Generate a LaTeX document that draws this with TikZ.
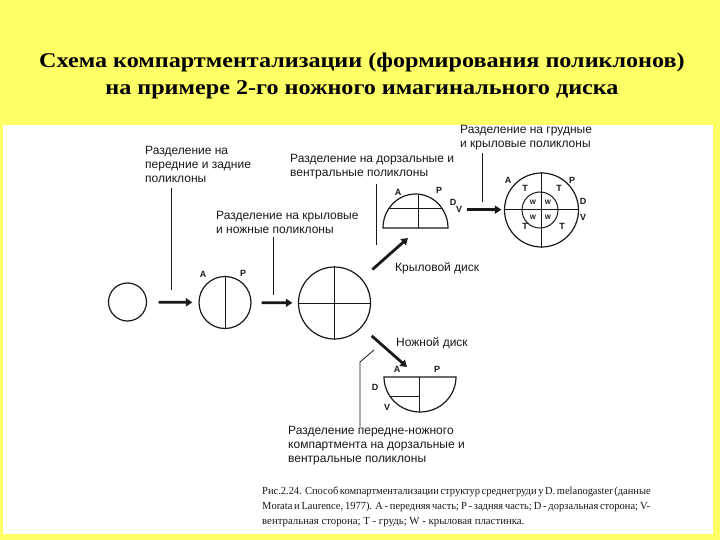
\documentclass[tikz,border=0pt]{standalone}
\usepackage{fontspec}
\setmainfont{Liberation Serif}
\newfontfamily\arialfont{Liberation Sans}
\newfontfamily\titlefont[FakeStretch=1.15]{Liberation Serif}
\newfontfamily\capfont[FakeStretch=0.97]{Liberation Serif}
\usetikzlibrary{arrows.meta, positioning}
\definecolor{slideyellow}{RGB}{255,255,102}
\definecolor{inkgray}{RGB}{25,25,25}
\newcommand{\capline}[1]{\hbox to 388pt{\capfont\spaceskip=0.25em plus 1em minus 0.1em #1}}
\tikzset{
  disc/.style={circle, draw=inkgray, line width=1.2pt, inner sep=0pt},
  lbl/.style={font=\arialfont\fontsize{12}{14}\selectfont, text=inkgray, align=left,
    inner sep=0pt, anchor=north west},
  ltr/.style={font=\arialfont\bfseries\fontsize{9}{9}\selectfont, text=inkgray, inner sep=0pt},
  wl/.style={font=\arialfont\bfseries\fontsize{6.5}{6.5}\selectfont, text=inkgray, inner sep=0pt},
  arrow/.style={-{Triangle[length=6.5pt,width=8pt]}, line width=2.8pt, inkgray},
  ptr/.style={line width=0.8pt, inkgray},
  split/.style={line width=1pt, inkgray},
  cpt/.style={font=\fontsize{10.8}{15}\selectfont, text=inkgray, align=left,
    inner sep=0pt, anchor=north west},
  ttl/.style={font=\titlefont\bfseries\fontsize{21}{27}\selectfont, align=center, inner sep=0pt}
}

\begin{document}
\begin{tikzpicture}[x=1pt, y=-1pt]
  \useasboundingbox (0,0) rectangle (720,540);
  \fill[slideyellow] (0,0) rectangle (720,540);
  \fill[white] (3,125) rectangle (713,534);
  \node[ttl] (title) at (362,76) {Схема компартментализации (формирования поликлонов)\\
    на примере 2-го ножного имагинального диска};

  % discs
  \node[disc, minimum size=38pt] (c0) at (127.5,302) {};
  \node[disc, minimum size=52pt] (c1) at (225,302.5) {};
  \node[disc, minimum size=72pt] (c2) at (334.5,303) {};
  \node[disc, minimum size=74pt] (c3) at (541.5,210) {};
  \node[disc, minimum size=36pt, line width=1pt] (c3in) at (540,210) {};
  \draw[split] (c1.north) -- (c1.south);
  \draw[split] (c2.north) -- (c2.south);
  \draw[split] (c2.west) -- (c2.east);
  \draw[split] (c3.north) -- (c3.south);
  \draw[split] (c3.west) -- (c3.east);

  % wing half-disc
  \coordinate (wing) at (415.5,209);
  \draw[disc] (383,228) arc[start angle=180, end angle=360, x radius=32.5, y radius=34] -- cycle;
  \begin{scope}
    \clip (383,228) arc[start angle=180, end angle=360, x radius=32.5, y radius=34] -- cycle;
    \draw[split] (380,209) -- (450,209);
    \draw[split] (418.5,190) -- (418.5,230);
  \end{scope}

  % leg half-disc
  \draw[disc] (384,377) arc[start angle=180, end angle=0, x radius=36, y radius=35] -- cycle;
  \begin{scope}
    \clip (384,377) arc[start angle=180, end angle=0, x radius=36, y radius=35] -- cycle;
    \draw[split] (419,375) -- (419,415);
    \draw[split] (380,396) -- (419,396);
  \end{scope}

  % letters
  \node[ltr] (a1) at (203,274) {A};
  \node[ltr] (p1) at (243,273) {P};
  \node[ltr] (a2) at (398,192) {A};
  \node[ltr] (p2) at (439,190.5) {P};
  \node[ltr] (d2) at (453,202) {D};
  \node[ltr] (v2) at (459,209) {V};
  \node[ltr] (a3) at (508,180) {A};
  \node[ltr] (p3) at (572,180) {P};
  \node[ltr] (d3) at (583,201) {D};
  \node[ltr] (v3) at (583,217) {V};
  \node[ltr] (t1) at (525,188) {T};
  \node[ltr] (t2) at (559,188) {T};
  \node[ltr] (t3) at (525,226) {T};
  \node[ltr] (t4) at (562,226) {T};
  \node[wl] (w1) at (533,202) {W};
  \node[wl] (w2) at (548,202) {W};
  \node[wl] (w3) at (533,217) {W};
  \node[wl] (w4) at (548,217) {W};
  \node[ltr] (a4) at (397,369) {A};
  \node[ltr] (p4) at (437,369) {P};
  \node[ltr] (d4) at (375,387) {D};
  \node[ltr] (v4) at (387,407) {V};

  % labels
  \node[lbl] (lab1) at (145,146.5) {Разделение на\\передние и задние\\поликлоны};
  \node[lbl] (lab2) at (216,211.5) {Разделение на крыловые\\и ножные поликлоны};
  \node[lbl] (lab3) at (290,154.5) {Разделение на дорзальные и\\вентральные поликлоны};
  \node[lbl] (lab4) at (460,125) {Разделение на грудные\\и крыловые поликлоны};
  \node[lbl] (wingdisc) at (395,262) {Крыловой диск};
  \node[lbl] (legdisc) at (396,337) {Ножной диск};
  \node[lbl] (lab5) at (288,426.5) {Разделение передне-ножного\\компартмента на дорзальные и\\вентральные поликлоны};

  % arrows
  \coordinate (wingtip) at (408,238);
  \coordinate (legtip) at (407,367);
  \draw[arrow, shorten <=11.5pt, shorten >=6pt] (c0) -- (c1);
  \draw[arrow, shorten <=10pt, shorten >=5.5pt] (c1) -- (c2);
  \draw[arrow, shorten <=14pt] (c2) -- (wingtip);
  \draw[arrow, shorten <=13pt] (c2) -- (legtip);
  \draw[arrow, shorten <=51.5pt, shorten >=2.5pt] (wing) -- (c3);

  % pointer lines
  \coordinate (tip1) at (171,290);
  \coordinate (tip2) at (273,295);
  \coordinate (tip3) at (376,245);
  \coordinate (tip4) at (482,202);
  \coordinate (tip5) at (374,350);
  \coordinate (bend5) at (360,362);
  \draw[ptr] (tip1 |- lab1.south) ++(0,5) -- (tip1);
  \draw[ptr] (tip2 |- lab2.south) ++(0,3) -- (tip2);
  \draw[ptr] (tip3 |- lab3.south) ++(0,4) -- (tip3);
  \draw[ptr] (tip4 |- lab4.south) ++(0,3) -- (tip4);
  \draw[ptr] (tip5) -- (bend5) -- (bend5 |- lab5.north) -- ++(0,-8);

  % caption
  \node[cpt] (caption) at (262,487) {%
    \capline{Рис.2.24. Способ компартментализации структур среднегруди у D. melanogaster (данные}\\
    \capline{Morata и Laurence, 1977). A - передняя часть; P - задняя часть; D - дорзальная сторона; V-}\\
    вентральная сторона; T - грудь; W - крыловая пластинка.};
\end{tikzpicture}
\end{document}
